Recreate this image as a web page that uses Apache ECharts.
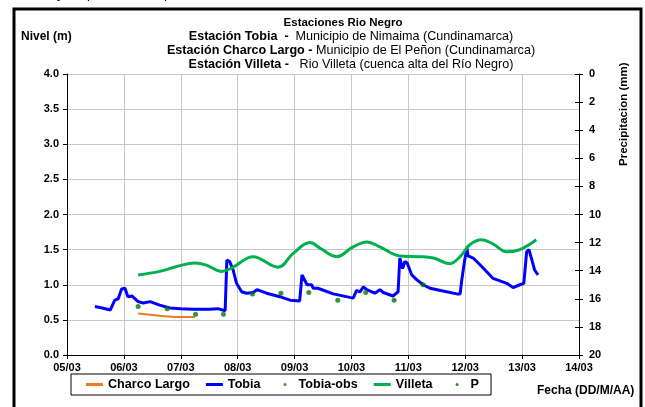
<!doctype html>
<html>
<head>
<meta charset="utf-8">
<title>Estaciones Rio Negro</title>
<script src="https://cdn.jsdelivr.net/npm/echarts@6/dist/echarts.min.js"></script>
<style>
  html, body { margin: 0; padding: 0; background: #fff; }
  #chart { width: 645px; height: 407px; }
</style>
</head>
<body>
<div id="chart"></div>
<script>
// dias (fraccion de dia de marzo) y niveles
var tobiaDias = [5.49, 5.62, 5.76, 5.84, 5.90, 5.96, 6.02, 6.07, 6.14, 6.25, 6.34, 6.46, 6.63, 6.81, 7.00, 7.21, 7.51, 7.65, 7.78,
  7.81, 7.86, 7.92, 7.98, 8.07, 8.16, 8.27, 8.34, 8.51, 8.74, 8.92, 9.09, 9.13, 9.16, 9.22, 9.30, 9.33, 9.41, 9.68, 9.97,
  10.03, 10.09, 10.15, 10.21, 10.27, 10.41, 10.50, 10.56, 10.73, 10.82, 10.85, 10.90, 10.94, 10.98, 11.06, 11.15, 11.26,
  11.38, 11.61, 11.85, 11.91, 11.94, 11.99, 12.03, 12.05, 12.14, 12.29, 12.49, 12.73, 12.84, 12.96, 13.03, 13.08, 13.12,
  13.18, 13.22, 13.28];
var tobiaNivel = [0.69, 0.67, 0.64, 0.78, 0.80, 0.94, 0.95, 0.83, 0.84, 0.76, 0.74, 0.76, 0.71, 0.67, 0.66, 0.65, 0.65, 0.66, 0.63,
  1.35, 1.33, 1.21, 1.02, 0.90, 0.88, 0.89, 0.93, 0.88, 0.83, 0.78, 0.77, 1.14, 1.15, 1.00, 1.00, 0.95, 0.95, 0.87, 0.82,
  0.81, 0.92, 0.90, 0.97, 0.93, 0.88, 0.93, 0.89, 0.84, 0.90, 1.38, 1.23, 1.33, 1.31, 1.14, 1.07, 1.00,
  0.95, 0.91, 0.87, 0.87, 1.07, 1.35, 1.52, 1.41, 1.38, 1.26, 1.09, 1.02, 0.96, 1.00, 1.02, 1.47, 1.50,
  1.33, 1.21, 1.14];

var villetaDias = [6.25, 6.63, 6.93, 7.25, 7.45, 7.72, 7.92, 8.27, 8.71, 8.98, 9.27, 9.45, 9.74, 10.03, 10.27, 10.50, 10.85,
  11.20, 11.44, 11.73, 11.91, 12.08, 12.29, 12.49, 12.73, 12.96, 13.25];
var villetaNivel = [1.14, 1.19, 1.26, 1.31, 1.28, 1.19, 1.25, 1.40, 1.25, 1.45, 1.60, 1.52, 1.40, 1.54, 1.61, 1.54, 1.41,
  1.40, 1.38, 1.30, 1.40, 1.57, 1.64, 1.58, 1.47, 1.50, 1.64];

var charcoDias = [6.25, 6.63, 6.93, 7.25];
var charcoNivel = [0.59, 0.56, 0.54, 0.54];

var obsDias = [6.25, 6.76, 7.26, 7.75, 8.26, 8.76, 9.25, 9.76, 10.25, 10.75, 11.26];
var obsNivel = [0.69, 0.66, 0.58, 0.58, 0.87, 0.88, 0.89, 0.78, 0.89, 0.78, 1.00];

var precipDias = [];
var precipMm = [];

var FONT = '"Liberation Sans", Arial, sans-serif';

function pares(xs, ys) {
  var out = [];
  for (var i = 0; i < xs.length; i++) out.push([xs[i], ys[i]]);
  return out;
}

var chart = echarts.init(document.getElementById('chart'), null, { renderer: 'canvas' });

var labelStyle = { color: '#000', fontFamily: FONT, fontWeight: 'bold', fontSize: 11 };

chart.setOption({
  animation: false,
  backgroundColor: '#fff',
  textStyle: { fontFamily: FONT },
  title: [
    {
      left: 338,
      top: 12,
      textAlign: 'center',
      text: 'Estaciones Rio Negro',
      textStyle: { fontFamily: FONT, fontWeight: 'bold', fontSize: 11.5, color: '#000' }
    },
    {
      left: 346,
      top: 25,
      textAlign: 'center',
      text: '{b|Estación Tobia  -  }{n|Municipio de Nimaima (Cundinamarca)}\n' +
        '{b|Estación Charco Largo - }{n|Municipio de El Peñon (Cundinamarca)}\n' +
        '{b|Estación Villeta -  }{n| Rio Villeta (cuenca alta del Río Negro)}',
      textStyle: {
        fontSize: 12.6,
        lineHeight: 14,
        rich: {
          b: { fontFamily: FONT, fontWeight: 'bold', fontSize: 12.6, color: '#000', lineHeight: 14 },
          n: { fontFamily: FONT, fontWeight: 'normal', fontSize: 12.6, color: '#000', lineHeight: 14 }
        }
      }
    }
  ],
  grid: { left: 67, right: 66, top: 74, bottom: 52 },
  legend: {
    left: 71,
    top: 374,
    orient: 'horizontal',
    borderColor: '#000',
    borderWidth: 1,
    padding: [4, 12, 4, 15],
    itemGap: 16,
    itemWidth: 17,
    itemHeight: 3,
    formatter: function (name) {
      if (name === 'Tobia' || name === 'Villeta') return name + '\u00a0\u00a0';
      return name;
    },
    textStyle: { color: '#000', fontFamily: FONT, fontWeight: 'bold', fontSize: 12.6 },
    data: [
      { name: 'Charco Largo', icon: 'rect' },
      { name: 'Tobia', icon: 'rect' },
      { name: 'Tobia-obs', icon: 'circle' },
      { name: 'Villeta', icon: 'rect' },
      { name: 'P', icon: 'circle' }
    ]
  },
  xAxis: {
    type: 'value',
    min: 5,
    max: 14,
    interval: 1,
    axisLine: { onZero: false, lineStyle: { color: '#000', width: 1 } },
    axisTick: { show: true, length: 4, lineStyle: { color: '#000' } },
    axisLabel: Object.assign({
      margin: 7,
      formatter: function (v) { return (v < 10 ? '0' : '') + v + '/03'; }
    }, labelStyle),
    splitLine: { show: true, lineStyle: { color: '#c8c8c8', width: 1 } }
  },
  yAxis: [
    {
      type: 'value',
      min: 0,
      max: 4,
      interval: 0.5,
      axisLine: { show: true, lineStyle: { color: '#000', width: 1 } },
      axisTick: { show: true, length: 4, lineStyle: { color: '#000' } },
      axisLabel: Object.assign({
        margin: 8,
        formatter: function (v) { return v.toFixed(1); }
      }, labelStyle),
      splitLine: { show: true, lineStyle: { color: '#c8c8c8', width: 1 } }
    },
    {
      type: 'value',
      position: 'right',
      inverse: true,
      min: 0,
      max: 20,
      interval: 2,
      axisLine: { show: true, lineStyle: { color: '#000', width: 1 } },
      axisTick: { show: true, length: 4, lineStyle: { color: '#000' } },
      axisLabel: Object.assign({ margin: 10 }, labelStyle),
      splitLine: { show: false }
    },
    {
      type: 'value',
      position: 'right',
      inverse: true,
      min: 0,
      max: 20,
      interval: 2,
      axisLine: { show: false },
      axisTick: { show: true, inside: true, length: 4, lineStyle: { color: '#000' } },
      axisLabel: { show: false },
      splitLine: { show: false }
    }
  ],
  series: [
    {
      name: 'Charco Largo',
      type: 'line',
      data: pares(charcoDias, charcoNivel),
      smooth: 0.4,
      showSymbol: false,
      symbol: 'none',
      color: '#EE7B22',
      lineStyle: { color: '#EE7B22', width: 2 },
      z: 3
    },
    {
      name: 'Tobia',
      type: 'line',
      data: pares(tobiaDias, tobiaNivel),
      showSymbol: false,
      symbol: 'none',
      color: '#0000FF',
      lineStyle: { color: '#0000FF', width: 3 },
      z: 4
    },
    {
      name: 'Tobia-obs',
      type: 'scatter',
      data: pares(obsDias, obsNivel),
      symbol: 'circle',
      symbolSize: 5,
      color: '#007A00',
      itemStyle: { color: '#007A00' },
      z: 6
    },
    {
      name: 'Villeta',
      type: 'line',
      data: pares(villetaDias, villetaNivel),
      smooth: 0.4,
      showSymbol: false,
      symbol: 'none',
      color: '#00B050',
      lineStyle: { color: '#00B050', width: 3 },
      z: 5
    },
    {
      name: 'P',
      type: 'scatter',
      yAxisIndex: 1,
      data: pares(precipDias, precipMm),
      symbolSize: 3,
      color: '#006400',
      itemStyle: { color: '#006400' }
    }
  ],
  graphic: [
    {
      type: 'rect',
      shape: { x: 14, y: 9, width: 627, height: 420 },
      style: { fill: 'none', stroke: '#000', lineWidth: 3 },
      silent: true
    },
    {
      type: 'text', left: 21, top: 31,
      style: { text: 'Nivel (m)', fill: '#000', font: 'bold 12px ' + FONT }
    },
    {
      type: 'text', x: 618, y: 166, rotation: Math.PI / 2,
      style: { text: 'Precipitacion (mm)', fill: '#000', font: 'bold 11.5px ' + FONT, align: 'left', verticalAlign: 'top' }
    },
    {
      type: 'text', left: 537, top: 385,
      style: { text: 'Fecha (DD/M/AA)', fill: '#000', font: 'bold 12px ' + FONT }
    },
    // restos de la linea de texto cortada en el borde superior
    { type: 'text', x: 57, y: -12, style: { text: 'y', fill: '#000', font: '13px ' + FONT } },
    { type: 'text', x: 87, y: -12, style: { text: 'p', fill: '#000', font: '13px ' + FONT } },
    { type: 'text', x: 164, y: -12, style: { text: 'p', fill: '#000', font: '13px ' + FONT } }
  ]
});
</script>
</body>
</html>
